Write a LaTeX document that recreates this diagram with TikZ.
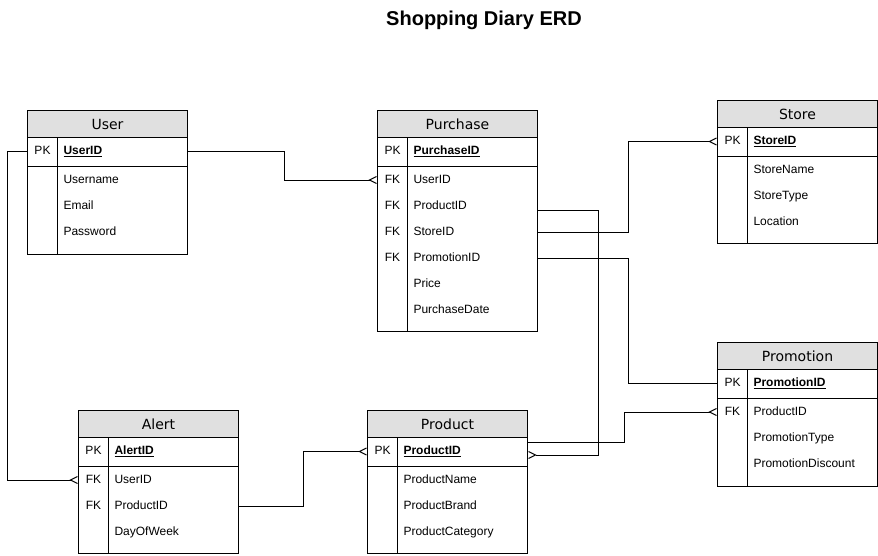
\documentclass[tikz,border=0pt]{standalone}
\usepackage{fontspec}
\setmainfont{Liberation Sans}
\newfontfamily\headfont{DejaVu Sans}
\usetikzlibrary{arrows.meta}
\definecolor{headgray}{RGB}{224,224,224}

\begin{document}
\begin{tikzpicture}[x=1pt, y=-1pt, line width=1pt,
    tablehead/.style={draw, fill=headgray, anchor=north west, minimum width=160pt, minimum height=27pt, inner sep=0pt, font=\headfont\fontsize{14}{16}\selectfont},
    keycell/.style={anchor=west, minimum width=30pt, minimum height=26pt, inner sep=0pt, text height=9pt, text depth=3pt, font=\fontsize{12}{14}\selectfont},
    fieldcell/.style={anchor=west, text width=118pt, inner xsep=6pt, inner ysep=0pt, minimum height=26pt, text height=9pt, text depth=3pt, align=left, font=\fontsize{12}{14}\selectfont},
    pkrow/.style={draw, minimum height=29pt},
    many/.style={-{Straight Barb[reversed, length=7pt, width=7pt, line width=1pt]}}]
    \useasboundingbox (0,0) rectangle (878,555);
    % Shopping diary tables
    \node[font=\bfseries\fontsize{20}{24}\selectfont] (title) at (484,20) {Shopping Diary ERD};

    \node[tablehead] (user) at (27,110) {User};
    \node[keycell, pkrow] (userpk) at (27,151.5) {PK};
    \node[fieldcell, pkrow, font=\bfseries\fontsize{12}{14}\selectfont] (userid) at (57,151.5) {\underline{UserID}};
    \draw (27,166) rectangle (187,254);
    \draw (57,166) -- (57,254);
    \node[fieldcell] (username) at (57,180) {Username};
    \node[fieldcell] (email) at (57,206) {Email};
    \node[fieldcell] (password) at (57,232) {Password};

    \node[tablehead] (purchase) at (377,110) {Purchase};
    \node[keycell, pkrow] (purchasepk) at (377,151.5) {PK};
    \node[fieldcell, pkrow, font=\bfseries\fontsize{12}{14}\selectfont] (purchaseid) at (407,151.5) {\underline{PurchaseID}};
    \draw (377,166) rectangle (537,331);
    \draw (407,166) -- (407,331);
    \node[keycell] (pfk1) at (377,180) {FK};
    \node[fieldcell] (puserid) at (407,180) {UserID};
    \node[keycell] (pfk2) at (377,206) {FK};
    \node[fieldcell] (pproductid) at (407,206) {ProductID};
    \node[keycell] (pfk3) at (377,232) {FK};
    \node[fieldcell] (pstoreid) at (407,232) {StoreID};
    \node[keycell] (pfk4) at (377,258) {FK};
    \node[fieldcell] (ppromoid) at (407,258) {PromotionID};
    \node[fieldcell] (price) at (407,284) {Price};
    \node[fieldcell] (pdate) at (407,310) {PurchaseDate};

    \node[tablehead] (store) at (717,100) {Store};
    \node[keycell, pkrow] (storepk) at (717,141.5) {PK};
    \node[fieldcell, pkrow, font=\bfseries\fontsize{12}{14}\selectfont] (storeid) at (747,141.5) {\underline{StoreID}};
    \draw (717,156) rectangle (877,243);
    \draw (747,156) -- (747,243);
    \node[fieldcell] (storename) at (747,170) {StoreName};
    \node[fieldcell] (storetype) at (747,196) {StoreType};
    \node[fieldcell] (location) at (747,222) {Location};

    \node[tablehead] (promotion) at (717,342) {Promotion};
    \node[keycell, pkrow] (promopk) at (717,383.5) {PK};
    \node[fieldcell, pkrow, font=\bfseries\fontsize{12}{14}\selectfont] (promoid) at (747,383.5) {\underline{PromotionID}};
    \draw (717,398) rectangle (877,486);
    \draw (747,398) -- (747,486);
    \node[keycell] (mfk) at (717,412) {FK};
    \node[fieldcell] (mproductid) at (747,412) {ProductID};
    \node[fieldcell] (promotype) at (747,438) {PromotionType};
    \node[fieldcell] (promodisc) at (747,464) {PromotionDiscount};

    \node[tablehead] (alert) at (78,410) {Alert};
    \node[keycell, pkrow] (alertpk) at (78,451.5) {PK};
    \node[fieldcell, pkrow, font=\bfseries\fontsize{12}{14}\selectfont] (alertid) at (108,451.5) {\underline{AlertID}};
    \draw (78,466) rectangle (238,553);
    \draw (108,466) -- (108,553);
    \node[keycell] (afk1) at (78,480) {FK};
    \node[fieldcell] (auserid) at (108,480) {UserID};
    \node[keycell] (afk2) at (78,506) {FK};
    \node[fieldcell] (aproductid) at (108,506) {ProductID};
    \node[fieldcell] (dayofweek) at (108,532) {DayOfWeek};

    \node[tablehead] (product) at (367,410) {Product};
    \node[keycell, pkrow] (productpk) at (367,451.5) {PK};
    \node[fieldcell, pkrow, font=\bfseries\fontsize{12}{14}\selectfont] (productid) at (397,451.5) {\underline{ProductID}};
    \draw (367,466) rectangle (527,553);
    \draw (397,466) -- (397,553);
    \node[fieldcell] (productname) at (397,480) {ProductName};
    \node[fieldcell] (productbrand) at (397,506) {ProductBrand};
    \node[fieldcell] (productcat) at (397,532) {ProductCategory};

    % relations
    \draw[many] (userid.east) -- ++(96,0) |- (pfk1.west);
    \draw[many] (userpk.west) -- ++(-20,0) |- (afk1.west);
    \draw[many] (pstoreid.east) -- ++(90,0) |- (storepk.west);
    \draw[many] ([yshift=-4pt]pproductid.east) -- ++(60,0) |- ([yshift=-3.5pt]productid.east);
    \draw (ppromoid.east) -- ++(90,0) |- (promopk.west);
    \draw[many] ([yshift=9.5pt]productid.east) -- ++(96,0) |- (mfk.west);
    \draw[many] (aproductid.east) -- ++(64,0) |- (productpk.west);
\end{tikzpicture}
\end{document}
